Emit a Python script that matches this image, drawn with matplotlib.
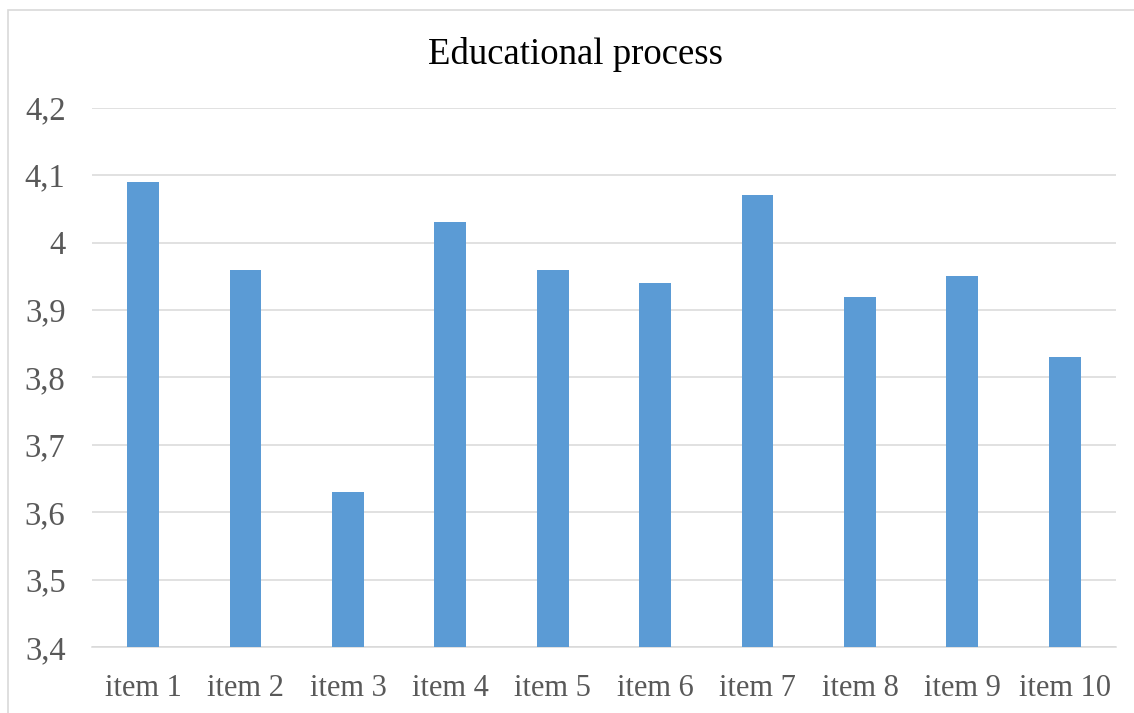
import matplotlib.pyplot as plt
from matplotlib.patches import Rectangle
from matplotlib.ticker import FuncFormatter

items = ['item 1', 'item 2', 'item 3', 'item 4', 'item 5',
         'item 6', 'item 7', 'item 8', 'item 9', 'item 10']
scores = [4.09, 3.96, 3.63, 4.03, 3.96, 3.94, 4.07, 3.92, 3.95, 3.83]
y_ticks = [3.4, 3.5, 3.6, 3.7, 3.8, 3.9, 4.0, 4.1, 4.2]

plt.rcParams['font.family'] = ['Liberation Serif', 'DejaVu Serif']

fig = plt.figure(figsize=(11.34, 7.13), dpi=100)
ax = fig.add_axes([0.0811, 0.0919, 0.903, 0.7573])

x = range(len(items))
ax.bar(x, scores, width=0.31, color='#5B9BD5', zorder=3)

ax.set_ylim(3.4, 4.2)
ax.set_xlim(-0.5, len(items) - 0.5)
ax.set_yticks(y_ticks)
# comma as decimal separator, like the original
ax.yaxis.set_major_formatter(FuncFormatter(lambda v, p: ('%g' % round(v, 1)).replace('.', ',')))
ax.set_xticks(list(x))
ax.set_xticklabels(items)

ax.grid(axis='y', color='#D9D9D9', linewidth=1.1, zorder=0)
for s in ['top', 'right', 'left']:
    ax.spines[s].set_visible(False)
ax.spines['bottom'].set_color('#D9D9D9')
ax.spines['bottom'].set_linewidth(1.1)

ax.tick_params(axis='y', length=0, pad=19, labelsize=23.5, labelcolor='#595959')
ax.tick_params(axis='x', length=0, pad=19, labelsize=22, labelcolor='#595959')

fig.text(576 / 1134, 1 - 54 / 713, 'Educational process', fontsize=26.5,
         color='#000000', ha='center', va='center')

# chart area border (clipped on right and bottom in the original)
fig.patches.append(Rectangle((8 / 1134, -0.05), 1.1, 1 - 10 / 713 + 0.05,
                             transform=fig.transFigure, fill=False,
                             edgecolor='#D9D9D9', linewidth=1.2))

fig.savefig('out.png', dpi=100)
